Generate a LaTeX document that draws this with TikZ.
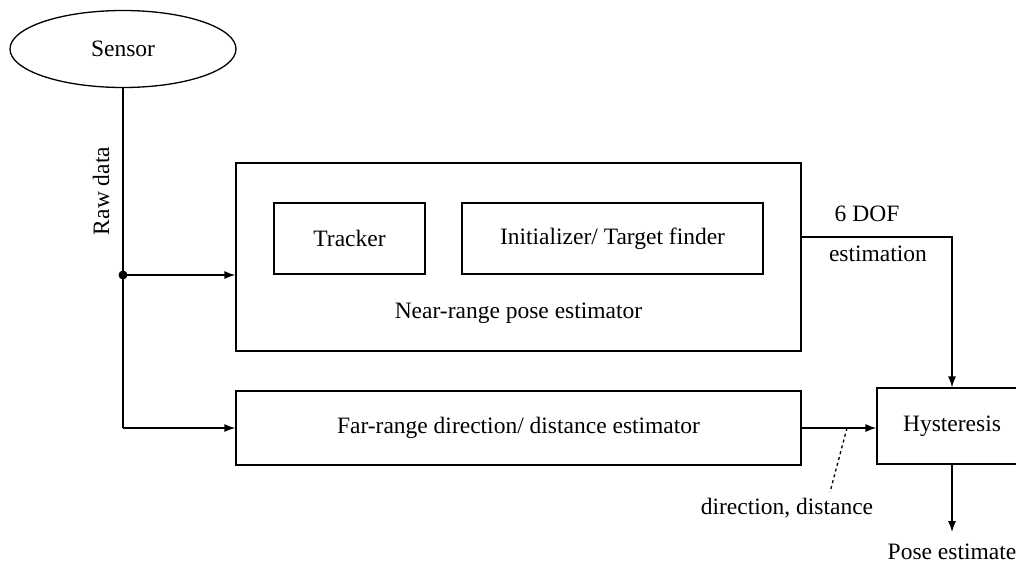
\documentclass[tikz,border=0pt]{standalone}
\usepackage{fontspec}
\setmainfont{Liberation Serif}
\usetikzlibrary{shapes.geometric,arrows.meta}
\begin{document}
\begin{tikzpicture}[x=1pt,y=-1pt,
  every node/.style={font=\fontsize{23.5}{28}\selectfont},
  box/.style={draw,rectangle,inner sep=0pt,line width=1.3pt},
  conn/.style={line width=1.3pt},
  arr/.style={conn,-{Latex[length=11pt,width=8pt]}},
  lbl/.style={inner sep=0pt}]
\useasboundingbox (0,0) rectangle (1016,565);
\node[draw,ellipse,line width=1.3pt,minimum width=226pt,minimum height=77pt,inner sep=0pt] (sensor) at (123,49) {Sensor};
\node[box,minimum width=565pt,minimum height=188pt] (near) at (518.5,257) {};
\node[box,minimum width=151pt,minimum height=71pt] (tracker) at (349.5,238.5) {Tracker};
\node[box,minimum width=301pt,minimum height=71pt] (init) at (612.5,238.5) {Initializer/ Target finder};
\node[lbl] (nearlbl) at (518.5,313) {Near-range pose estimator};
\node[box,minimum width=565pt,minimum height=74pt] (far) at (518.5,428) {Far-range direction/ distance estimator};
\node[box,minimum width=150pt,minimum height=76pt] (hyst) at (952,426) {Hysteresis};
\node[lbl,rotate=90] (raw) at (101,191) {Raw data};
\node[lbl] (dof) at (867,214) {6 DOF};
\node[lbl] (est) at (878,254) {estimation};
\node[lbl] (dirlbl) at (787,508) {direction, distance};
\node[lbl] (pose) at (952,552) {Pose estimate};
\coordinate (j) at (123,275);
\coordinate (bend) at (123,428);
\coordinate (dofstart) at (801,237);
\coordinate (dtop) at (847,428);
\coordinate (dbot) at (830,492);
\coordinate (pend) at (952,532);
\draw[conn] (sensor.south) -- (j) -- (bend);
\fill (j) circle (4.5pt);
\draw[arr] (j) -- (near.west |- j);
\draw[arr] (bend) -- (far.west);
\draw[arr] (dofstart) -| (hyst.north);
\draw[arr] (far.east) -- (far.east -| hyst.west);
\draw[conn,dashed] (dtop) -- (dbot);
\draw[arr] (hyst.south) -- (pend);
\end{tikzpicture}
\end{document}
